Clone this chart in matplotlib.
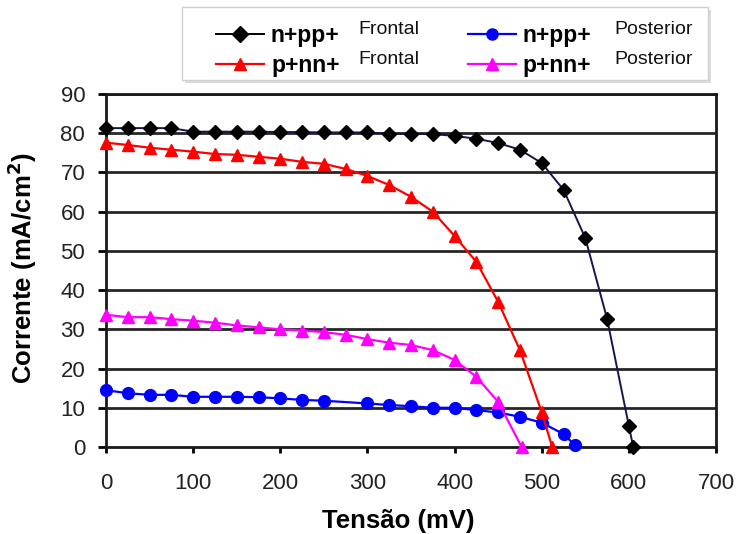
import matplotlib
matplotlib.use("Agg")
import matplotlib.pyplot as plt
from matplotlib.patches import Rectangle

plt.rcParams['font.family'] = ['Liberation Sans', 'DejaVu Sans']

# ---- data ----
v_npp_front = [0, 25, 50, 75, 100, 125, 150, 175, 200, 225, 250, 275, 300, 325, 350,
               375, 400, 425, 450, 475, 500, 525, 550, 575, 600, 605]
i_npp_front = [81.3, 81.3, 81.3, 81.3, 80.4, 80.4, 80.4, 80.4, 80.3, 80.3, 80.2, 80.2,
               80.2, 79.9, 79.8, 79.8, 79.3, 78.6, 77.5, 75.8, 72.4, 65.6, 53.3, 32.7, 5.4, 0.0]

v_pnn_front = [0, 25, 50, 75, 100, 125, 150, 175, 200, 225, 250, 275, 300, 325, 350,
               375, 400, 425, 450, 475, 500, 512]
i_pnn_front = [77.6, 77.0, 76.3, 75.8, 75.3, 74.7, 74.5, 74.0, 73.5, 72.7, 72.2, 70.9,
               69.1, 66.8, 63.8, 60.0, 53.8, 47.2, 37.0, 24.7, 8.9, 0.0]

v_npp_post = [0, 25, 50, 75, 100, 125, 150, 175, 200, 225, 250, 300, 325, 350,
              375, 400, 425, 450, 475, 500, 525, 538]
i_npp_post = [14.5, 13.7, 13.3, 13.3, 12.8, 12.8, 12.8, 12.7, 12.4, 12.0, 11.8, 11.1,
              10.7, 10.4, 10.0, 10.0, 9.4, 8.8, 7.7, 6.2, 3.3, 0.5]

v_pnn_post = [0, 25, 50, 75, 100, 125, 150, 175, 200, 225, 250, 275, 300, 325, 350,
              375, 400, 425, 450, 477]
i_pnn_post = [33.7, 33.1, 33.1, 32.6, 32.2, 31.7, 31.0, 30.5, 30.0, 29.7, 29.3, 28.6,
              27.5, 26.6, 26.0, 24.7, 22.2, 17.9, 11.5, 0.0]

series_names = ['n+pp+', 'p+nn+', 'n+pp+', 'p+nn+']
series_suffix = ['Frontal', 'Frontal', 'Posterior', 'Posterior']
x_ticks = [0, 100, 200, 300, 400, 500, 600, 700]
y_ticks = [0, 10, 20, 30, 40, 50, 60, 70, 80, 90]

W, H = 737, 534
fig = plt.figure(figsize=(W / 100, H / 100), dpi=100)
L, R, B, T = 106, 716, 447, 94
ax = fig.add_axes([L / W, 1 - B / H, (R - L) / W, (B - T) / H])

for y in y_ticks[1:]:
    ax.axhline(y, color='#262626', lw=2.0, zorder=1)

l1, = ax.plot(v_npp_front, i_npp_front, color='#15154f', lw=1.4, marker='D', ms=7,
              mfc='black', mec='black', clip_on=False, zorder=5)
l2, = ax.plot(v_pnn_front, i_pnn_front, color='#ff0000', lw=1.6, marker='^', ms=9,
              mfc='#ff0000', mec='#ff0000', clip_on=False, zorder=4)
l3, = ax.plot(v_npp_post, i_npp_post, color='#0000ff', lw=1.6, marker='o', ms=8.5,
              mfc='#0000ff', mec='#0000ff', clip_on=False, zorder=3)
l4, = ax.plot(v_pnn_post, i_pnn_post, color='#ff00ff', lw=1.6, marker='^', ms=9,
              mfc='#ff00ff', mec='#ff00ff', clip_on=False, zorder=3)

ax.set_xlim(0, 700)
ax.set_ylim(0, 90)
ax.set_xticks(x_ticks)
ax.set_yticks(y_ticks)
for s in ax.spines.values():
    s.set_linewidth(2.0)
    s.set_color('#1a1a1a')
ax.tick_params(axis='y', direction='out', length=6, width=2, pad=9,
               labelsize=16, labelcolor='#222222')
ax.tick_params(axis='x', direction='out', length=4.5, width=2, pad=14,
               labelsize=16, labelcolor='#222222')

ax.set_xlabel('Tensão (mV)', fontsize=18.5, fontweight='bold')
ax.xaxis.set_label_coords((398 - L) / (R - L), (B - 521) / (B - T))
ax.xaxis.label.set_va('center')
ax.set_ylabel('Corrente (mA/cm$^\\mathbf{2}$)', fontsize=18.5, fontweight='bold')
ax.yaxis.set_label_coords((22 - L) / (R - L), (B - 268) / (B - T))
ax.yaxis.label.set_va('center')

# legend frame with light shadow
shadow = Rectangle((185 / W, 1 - 83 / H), (711 - 185) / W, (83 - 10) / H,
                   transform=fig.transFigure, facecolor='#dcdcdc', edgecolor='none', zorder=0)
frame = Rectangle((182 / W, 1 - 80 / H), (708 - 182) / W, (80 - 7) / H,
                  transform=fig.transFigure, facecolor='white', edgecolor='#d0d0d0', lw=1, zorder=1)
fig.patches.extend([shadow, frame])

leg = fig.legend([l1, l2, l3, l4], series_names, ncol=2, loc='upper left',
                 bbox_to_anchor=(216 / W, 1 - 24 / H), frameon=False,
                 prop={'size': 16.5, 'weight': 'bold'},
                 handlelength=2.1, handletextpad=0.3, columnspacing=5.6,
                 labelspacing=0.32, borderpad=0, borderaxespad=0)
for h in leg.legend_handles:
    h.set_markersize(8)
leg.legend_handles[0].set_color('black')

suffix_pos = [(358, 29), (358, 59), (614, 29), (614, 59)]
for (px, py), txt in zip(suffix_pos, series_suffix):
    fig.text(px / W, 1 - py / H, txt, fontsize=14, va='center', ha='left', color='#111111')

fig.savefig('out.png', dpi=100)
